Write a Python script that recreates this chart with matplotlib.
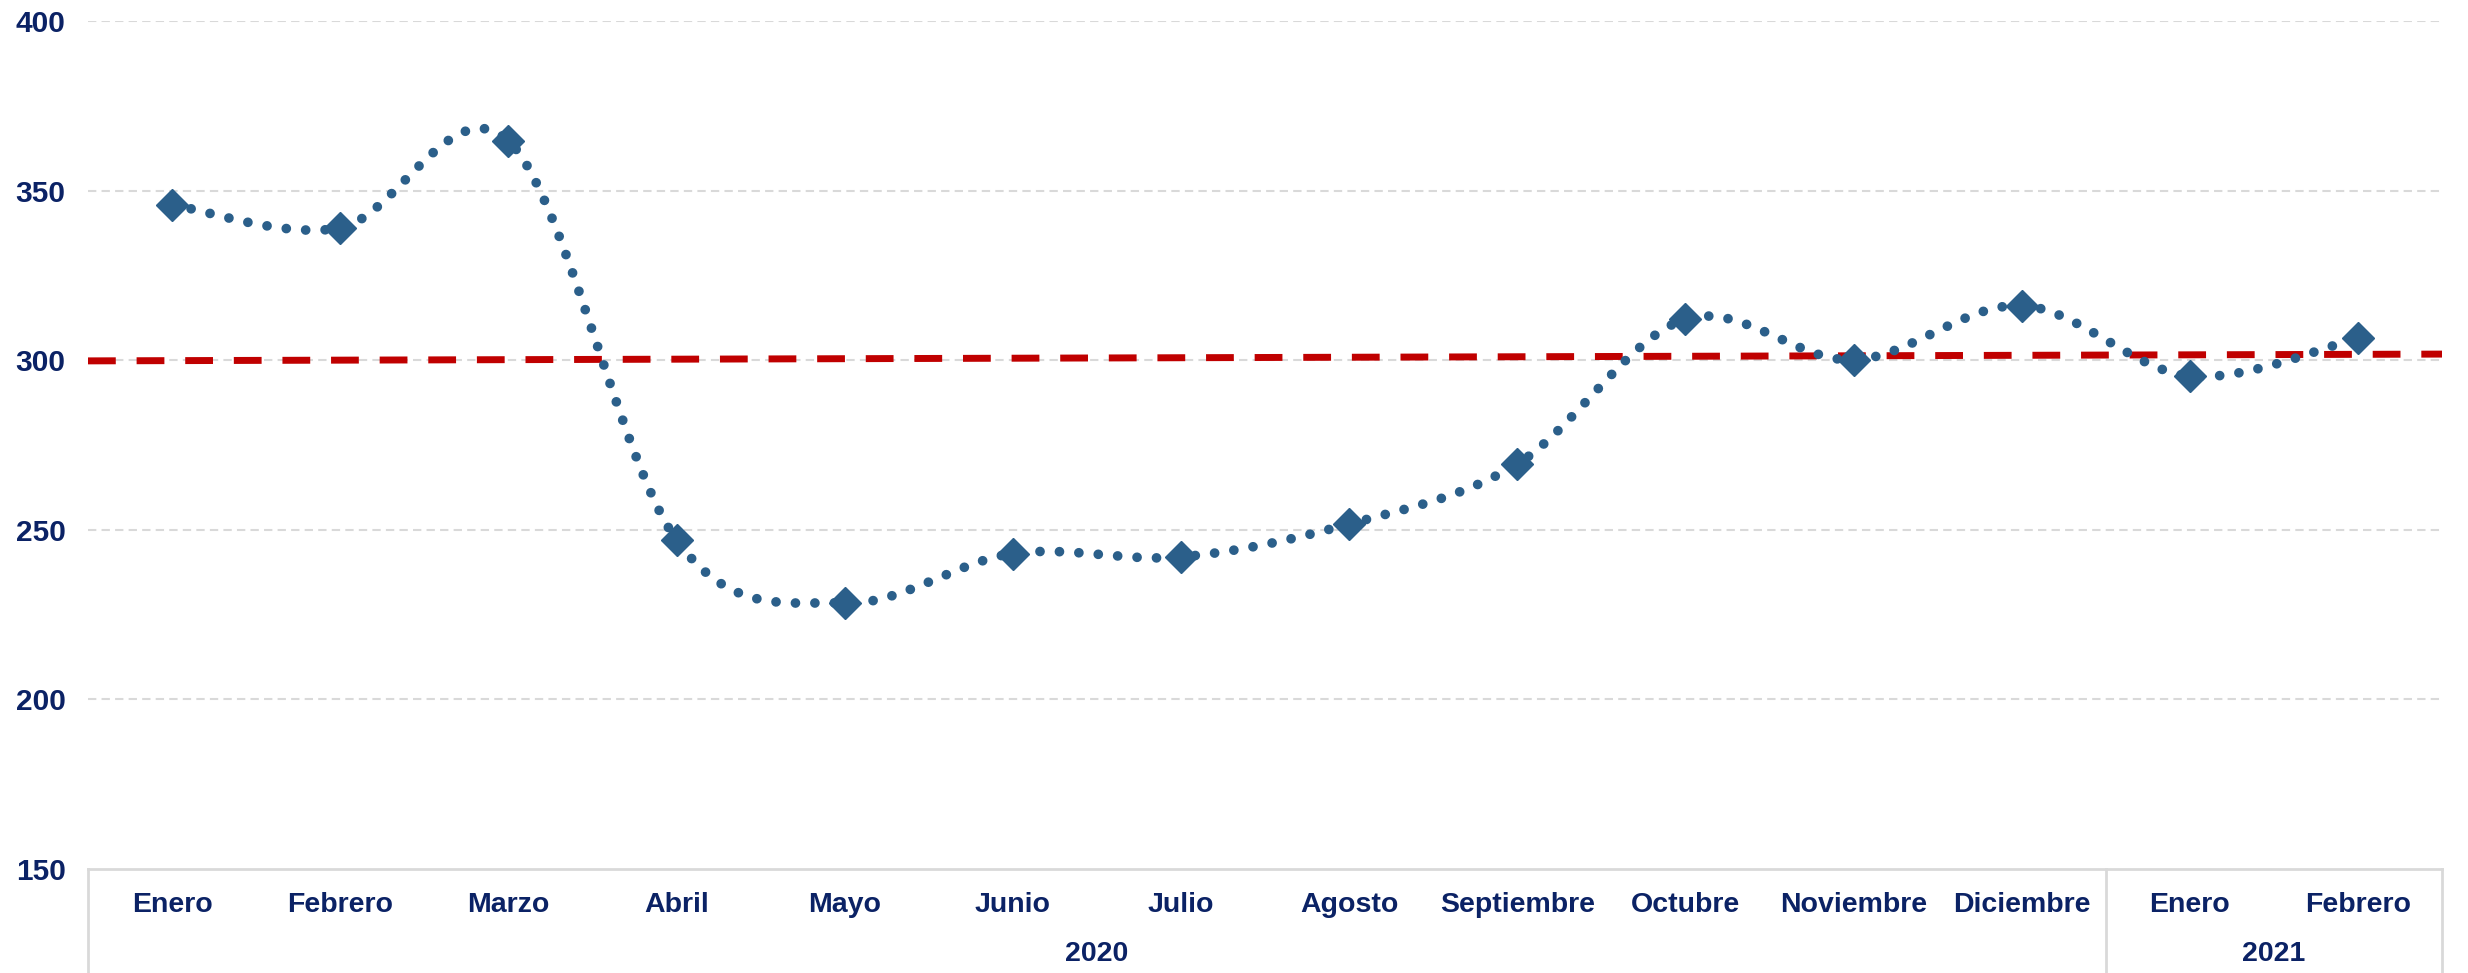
import matplotlib.pyplot as plt
import numpy as np
from matplotlib.transforms import blended_transform_factory

# datos
meses = ["Enero", "Febrero", "Marzo", "Abril", "Mayo", "Junio", "Julio",
         "Agosto", "Septiembre", "Octubre", "Noviembre", "Diciembre",
         "Enero", "Febrero"]
anios = ["2020", "2021"]
meses_por_anio = [12, 2]
valores = [345.8, 339.0, 364.7, 247.0, 228.4, 243.0, 242.0,
           251.7, 269.4, 312.1, 300.1, 316.1, 295.3, 306.5]
referencia = [299.8, 301.8]   # linea roja al inicio y al final

azul = "#2B5F8A"
rojo = "#C00000"
navy = "#0B2265"
gris = "#D9D9D9"

plt.rcParams['font.family'] = ['Liberation Sans', 'DejaVu Sans']


def suavizar(x, y, n=40):
    # curva suavizada tipo Excel (Catmull-Rom con Bezier cubica)
    x = np.asarray(x, float)
    y = np.asarray(y, float)
    px = np.concatenate([[x[0]], x, [x[-1]]])
    py = np.concatenate([[y[0]], y, [y[-1]]])
    xs, ys = [], []
    t = np.linspace(0, 1, n)
    for i in range(1, len(px) - 2):
        p0 = np.array([px[i], py[i]])
        p3 = np.array([px[i + 1], py[i + 1]])
        c1 = p0 + (np.array([px[i + 1], py[i + 1]]) - np.array([px[i - 1], py[i - 1]])) / 6
        c2 = p3 - (np.array([px[i + 2], py[i + 2]]) - np.array([px[i], py[i]])) / 6
        b = ((1 - t)[:, None] ** 3 * p0 + 3 * ((1 - t) ** 2 * t)[:, None] * c1
             + 3 * ((1 - t) * t ** 2)[:, None] * c2 + (t ** 3)[:, None] * p3)
        if i > 1:
            b = b[1:]
        xs.extend(b[:, 0])
        ys.extend(b[:, 1])
    return np.array(xs), np.array(ys)


fig = plt.figure(figsize=(24.68, 9.73), dpi=100)
ax = fig.add_axes([88 / 2468, 104 / 973, (2442 - 88) / 2468, 848 / 973])

x = np.arange(len(valores))
sx, sy = suavizar(x, valores)

for v in [200, 250, 300, 350, 400]:
    ax.axhline(v, color=gris, lw=1.5, linestyle=(0, (4, 2.5)), zorder=1)

ax.plot([-0.5, len(valores) - 0.5], referencia, color=rojo, lw=5,
        linestyle=(0, (4, 3)), dash_capstyle='butt', zorder=2)
ax.plot(sx, sy, color=azul, lw=7, linestyle=(0, (0.001, 2.0)),
        dash_capstyle='round', zorder=3)
ax.plot(x, valores, linestyle='none', marker='D', markersize=16.5,
        color=azul, zorder=4)

ax.set_xlim(-0.5, len(valores) - 0.5)
ax.set_ylim(150, 400)
ax.set_yticks([150, 200, 250, 300, 350, 400])
ax.tick_params(axis='y', length=0, pad=16, labelsize=21.5, labelcolor=navy)
for lab in ax.get_yticklabels():
    lab.set_fontweight('bold')
ax.set_xticks([])

for s in ['top', 'right', 'left']:
    ax.spines[s].set_visible(False)
ax.spines['bottom'].set_color(gris)
ax.spines['bottom'].set_linewidth(2)

# eje de categorias en dos niveles
tr = blended_transform_factory(ax.transData, ax.transAxes)
for i, m in enumerate(meses):
    ax.text(i, -0.0425, m, transform=tr, ha='center', va='center',
            fontsize=20.5, fontweight='bold', color=navy)

inicio = 0
bordes = [-0.5]
for a, n in zip(anios, meses_por_anio):
    centro = inicio + (n - 1) / 2
    ax.text(centro, -0.1, a, transform=tr, ha='center', va='center',
            fontsize=20.5, fontweight='bold', color=navy)
    inicio += n
    bordes.append(inicio - 0.5)
for b in bordes:
    ax.plot([b, b], [0, -0.13], transform=tr, color=gris, lw=2,
            clip_on=False)

fig.savefig('out.png', dpi=100)
